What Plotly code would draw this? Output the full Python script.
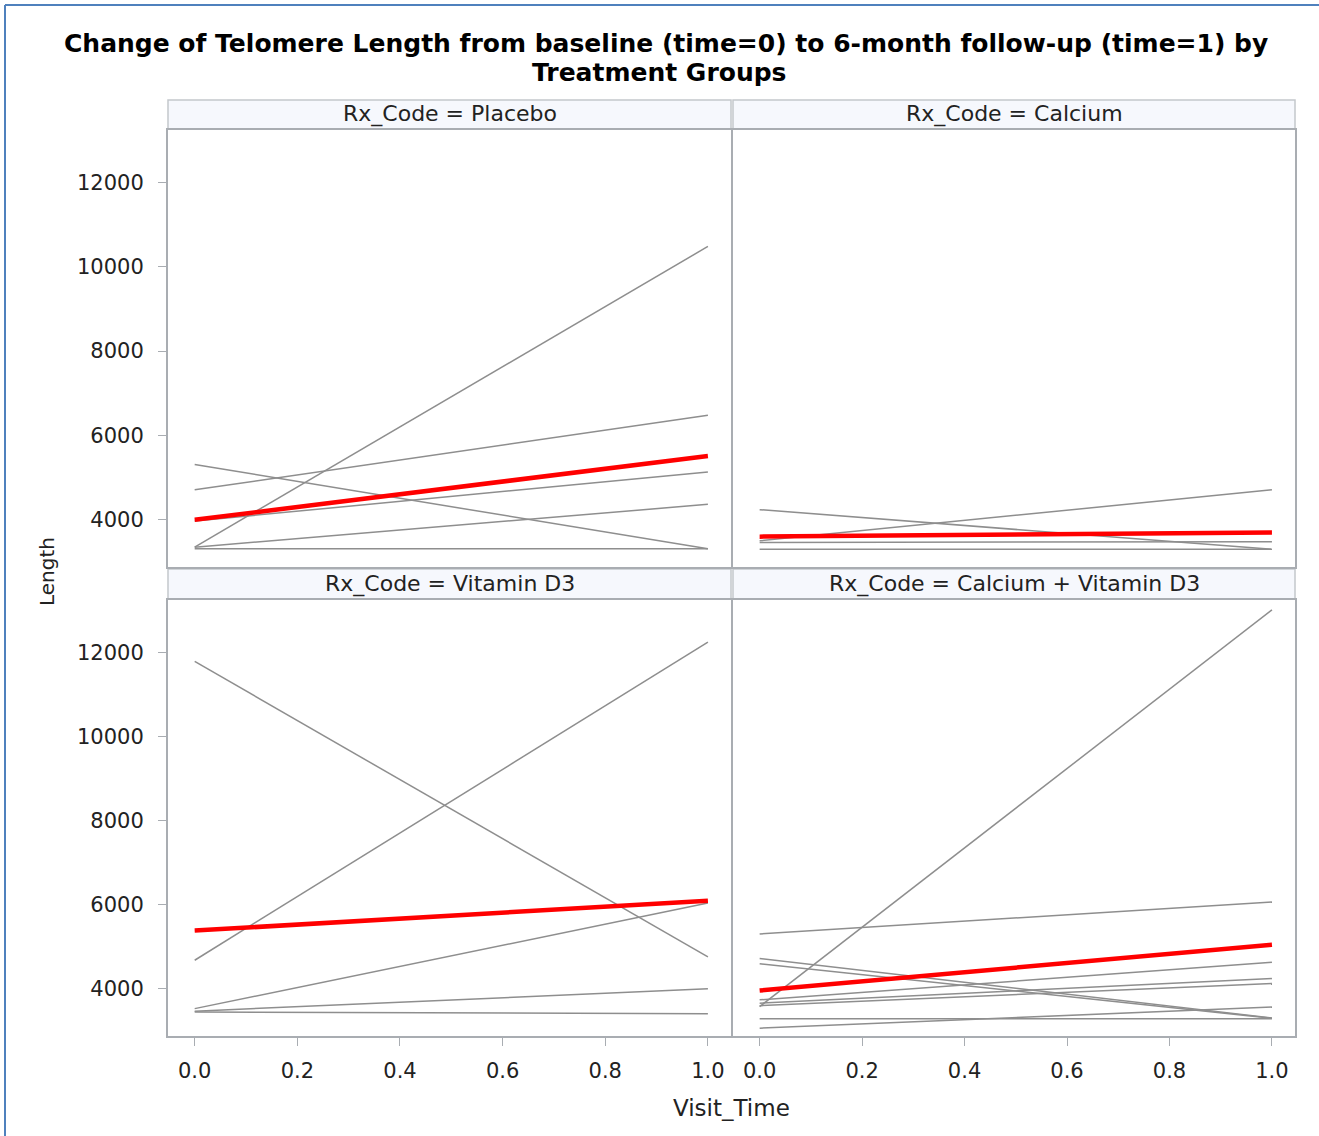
import plotly.graph_objects as go

# ---- data ----
visit_time = [0, 1]
groups = ["Placebo", "Calcium", "Vitamin D3", "Calcium + Vitamin D3"]

placebo_t0 = [3350, 4710, 5310, 3970, 3350, 3310]
placebo_t1 = [10480, 6480, 3310, 5135, 4365, 3310]

calcium_t0 = [4240, 3500, 3460, 3300]
calcium_t1 = [3300, 4710, 3480, 3300]

vitd_t0 = [11780, 4680, 3530, 3470, 3450]
vitd_t1 = [4760, 12240, 6040, 4000, 3410]

cad_t0 = [3580, 5306, 4720, 4595, 3740, 3660, 3600, 3290, 3065]
cad_t1 = [13005, 6065, 3310, 3300, 4630, 4245, 4130, 3290, 3570]

mean_t0 = [4000, 3600, 5385, 3960]
mean_t1 = [5510, 3700, 6095, 5050]

y_ticks = [4000, 6000, 8000, 10000, 12000]
y_tick_labels = ["4000", "6000", "8000", "10000", "12000"]
x_ticks = [0.0, 0.2, 0.4, 0.6, 0.8, 1.0]
x_tick_labels = ["0.0", "0.2", "0.4", "0.6", "0.8", "1.0"]

subjects = [(placebo_t0, placebo_t1), (calcium_t0, calcium_t1),
            (vitd_t0, vitd_t1), (cad_t0, cad_t1)]

# ---- layout geometry ----
W, H = 1319, 1136
FONT = "DejaVu Sans"
GRAY = "#8e8e8e"
FRAME = "#a9adb2"

def px(x):
    return x / W

def py(y):
    return 1 - y / H

cols = [(168, 731), (733, 1295)]
rows = [(130, 567), (600, 1036)]
strips = [(100, 129), (569, 599)]

fig = go.Figure()

for i, (t0s, t1s) in enumerate(subjects):
    ax = "" if i == 0 else str(i + 1)
    for a, b in zip(t0s, t1s):
        fig.add_trace(go.Scatter(x=visit_time, y=[a, b], mode="lines",
                                 line=dict(color=GRAY, width=1.5),
                                 xaxis="x" + ax, yaxis="y" + ax,
                                 showlegend=False, hoverinfo="skip"))
    fig.add_trace(go.Scatter(x=visit_time, y=[mean_t0[i], mean_t1[i]], mode="lines",
                             line=dict(color="#ff0000", width=4.5),
                             xaxis="x" + ax, yaxis="y" + ax,
                             showlegend=False, hoverinfo="skip"))

layout = dict(
    width=W, height=H,
    margin=dict(l=0, r=0, t=0, b=0),
    paper_bgcolor="white", plot_bgcolor="white",
    font=dict(family=FONT, color="#222222"),
    showlegend=False,
)

shapes = []
annotations = []

for i in range(4):
    r, c = divmod(i, 2)
    ax = "" if i == 0 else str(i + 1)
    x0, x1 = cols[c]
    y0, y1 = rows[r]
    xa = dict(domain=[px(x0), px(x1)], range=[-0.052, 1.045],
              showline=True, mirror=True, linecolor=FRAME, linewidth=2,
              showgrid=False, zeroline=False,
              tickvals=x_ticks, ticktext=x_tick_labels,
              anchor="y" + ax)
    if r == 1:
        xa.update(ticks="outside", ticklen=8, tickcolor=FRAME, tickwidth=1,
                  showticklabels=True, ticklabelstandoff=7,
                  tickfont=dict(size=21, color="#222222", family=FONT))
    else:
        xa.update(ticks="", showticklabels=False)
    ya = dict(domain=[py(y1), py(y0)], range=[2880, 13240],
              showline=True, mirror=True, linecolor=FRAME, linewidth=2,
              showgrid=False, zeroline=False,
              tickvals=y_ticks, ticktext=y_tick_labels,
              anchor="x" + ax)
    if c == 0:
        ya.update(ticks="outside", ticklen=8, tickcolor=FRAME, tickwidth=1,
                  showticklabels=True, ticklabelstandoff=10,
                  tickfont=dict(size=21, color="#222222", family=FONT))
    else:
        ya.update(ticks="", showticklabels=False)
    layout["xaxis" + ax] = xa
    layout["yaxis" + ax] = ya

    s0, s1 = strips[r]
    shapes.append(dict(type="rect", xref="paper", yref="paper",
                       x0=px(x0), x1=px(x1), y0=py(s1), y1=py(s0),
                       fillcolor="#f6f8fd", line=dict(color="#c3c7cc", width=1.5),
                       layer="below"))
    annotations.append(dict(text="Rx_Code = " + groups[i], xref="paper", yref="paper",
                            x=px((x0 + x1) / 2), y=py((s0 + s1) / 2),
                            xanchor="center", yanchor="middle", showarrow=False,
                            font=dict(size=22, family=FONT, color="#222222")))

# title
annotations.append(dict(text="<b>Change of Telomere Length from baseline (time=0) to 6-month follow-up (time=1) by</b>",
                        xref="paper", yref="paper", x=px(666), y=py(43),
                        xanchor="center", yanchor="middle", showarrow=False,
                        font=dict(size=25, family=FONT, color="#000000")))
annotations.append(dict(text="<b>Treatment Groups</b>",
                        xref="paper", yref="paper", x=px(659), y=py(72),
                        xanchor="center", yanchor="middle", showarrow=False,
                        font=dict(size=25, family=FONT, color="#000000")))
# axis titles
annotations.append(dict(text="Length", xref="paper", yref="paper",
                        x=px(47), y=py(572), xanchor="center", yanchor="middle",
                        textangle=-90, showarrow=False,
                        font=dict(size=20, family=FONT, color="#222222")))
annotations.append(dict(text="Visit_Time", xref="paper", yref="paper",
                        x=px(731), y=py(1108), xanchor="center", yanchor="middle",
                        showarrow=False,
                        font=dict(size=23, family=FONT, color="#222222")))

# outer blue border (left and top)
shapes.append(dict(type="line", xref="paper", yref="paper",
                   x0=px(5), x1=px(5), y0=0, y1=py(5),
                   line=dict(color="#4f81bd", width=2)))
shapes.append(dict(type="line", xref="paper", yref="paper",
                   x0=px(5), x1=1, y0=py(5), y1=py(5),
                   line=dict(color="#4f81bd", width=2)))

layout["shapes"] = shapes
layout["annotations"] = annotations
fig.update_layout(**layout)

fig.write_html("out.html",
               config={"displayModeBar": False},
               post_script="document.body.style.margin='0';document.body.style.overflow='hidden';")
